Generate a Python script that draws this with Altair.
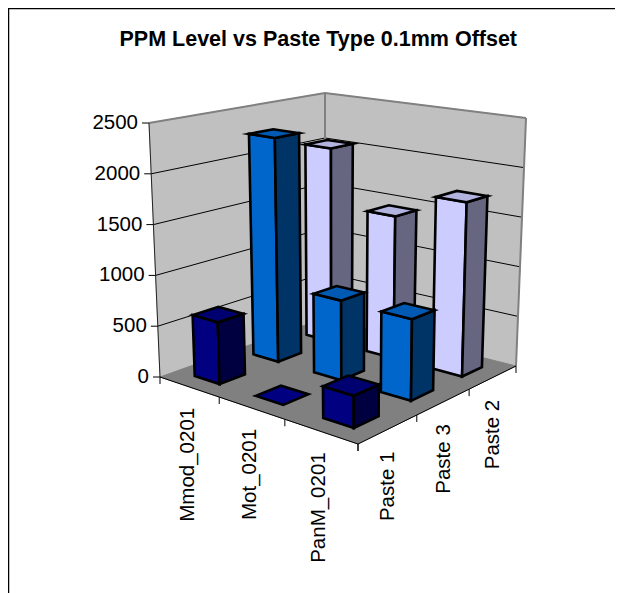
import altair as alt
import numpy as np
import pandas as pd

categories = ["Mmod_0201", "Mot_0201", "PanM_0201"]
series = ["Paste 1", "Paste 3", "Paste 2"]
paste_1 = [600, 0, 290]
paste_3 = [2270, 780, 770]
paste_2 = [2040, 1450, 1720]
y_ticks = [0, 500, 1000, 1500, 2000, 2500]
title_text = "PPM Level vs Paste Type 0.1mm Offset"

front_cols = ["#000080", "#0066CC", "#CCCCFF"]
side_cols = ["#000040", "#003366", "#666680"]
top_cols = ["#000070", "#0059B3", "#B3B3DF"]

FONT = "Liberation Sans"
YMAX = 2500.0
BAR = 0.42  # bar footprint share of a cell

# Axis frame: corners of the 3D box (left, front, right, back) at floor and top level
floor_c = [(160, 377), (358, 444), (516, 366), (325, 318)]
top_c = [(149, 123), (357, 158), (526, 118), (325, 93)]
unit_c = [(0, 0), (3, 0), (3, 3), (0, 3)]


def homography(src, dst):
    rows, rhs = [], []
    for (a, b), (p, q) in zip(src, dst):
        rows.append([a, b, 1, 0, 0, 0, -a * p, -b * p]); rhs.append(p)
        rows.append([0, 0, 0, a, b, 1, -a * q, -b * q]); rhs.append(q)
    h = np.linalg.solve(np.array(rows, float), np.array(rhs, float))
    return np.append(h, 1).reshape(3, 3)


HF, HT = homography(unit_c, floor_c), homography(unit_c, top_c)


def apply(H, u, v):
    r = H @ np.array([u, v, 1.0])
    return r[0] / r[2], r[1] / r[2]


def proj(u, v, val):
    """Project (category pos, series pos, value) onto the page."""
    f, t = apply(HF, u, v), apply(HT, u, v)
    k = val / YMAX
    return f[0] + (t[0] - f[0]) * k, f[1] + (t[1] - f[1]) * k


polys, lines, texts = [], [], []
pid = 0


def add_poly(store, pts, fill, stroke, sw):
    global pid
    pid += 1
    for i, (x, y) in enumerate(pts):
        store.append(dict(x=x, y=y, id=f"p{pid:03d}", o=i, fill=fill, stroke=stroke, sw=sw))


def add_line(pts, stroke, sw):
    add_poly(lines, pts, "none", stroke, sw)


# Walls and floor
back = []
add_poly(back, [proj(0, 0, 0), proj(0, 3, 0), proj(0, 3, YMAX), proj(0, 0, YMAX)], "#C0C0C0", "#C0C0C0", 1)
add_poly(back, [proj(0, 3, 0), proj(3, 3, 0), proj(3, 3, YMAX), proj(0, 3, YMAX)], "#C0C0C0", "#C0C0C0", 1)
add_poly(back, [proj(0, 0, 0), proj(3, 0, 0), proj(3, 3, 0), proj(0, 3, 0)], "#808080", "#808080", 1)

# Gridlines and frame
for t in y_ticks[1:]:
    c = "#808080" if t == YMAX else "#000000"
    w = 2 if t == YMAX else 1
    add_line([proj(0, 0, t), proj(0, 3, t), proj(3, 3, t)], c, w)
add_line([proj(0, 3, 0), proj(0, 3, YMAX)], "#808080", 2)
add_line([proj(3, 3, 0), proj(3, 3, YMAX)], "#808080", 2)
add_line([proj(0, 0, 0), proj(0, 0, YMAX)], "#222222", 1)
add_line([proj(0, 0, 0), proj(3, 0, 0), proj(3, 3, 0)], "#000000", 1)
# Ticks
for t in y_ticks:
    p = proj(0, 0, t)
    add_line([(p[0] - 7, p[1]), p], "#000000", 1)
    texts.append(dict(x=p[0] - 11, y=p[1], t=str(t), a=0, al="right"))
for i in range(4):
    p = proj(i, 0, 0)
    add_line([p, (p[0], p[1] + 7)], "#000000", 1)
    p = proj(3, i, 0)
    add_line([p, (p[0], p[1] + 7)], "#000000", 1)
for i, name in enumerate(categories):
    p = proj(i + 0.5, 0, 0)
    texts.append(dict(x=p[0] - 1, y=p[1] + 21, t=name, a=270, al="right"))
for j, name in enumerate(series):
    p = proj(3, j + 0.5, 0)
    texts.append(dict(x=p[0], y=p[1] + 22.5, t=name, a=270, al="right"))

# Bars, painted back to front
table = [paste_1, paste_3, paste_2]
bars = []
g = (1 - BAR) / 2
for j in (2, 1, 0):
    for i in range(3):
        val = table[j][i]
        u0, u1, v0, v1 = i + g, i + 1 - g, j + g, j + 1 - g
        if val > 0:
            add_poly(bars, [proj(u0, v0, 0), proj(u1, v0, 0), proj(u1, v0, val), proj(u0, v0, val)],
                     front_cols[j], "#000000", 2.6)
            add_poly(bars, [proj(u1, v0, 0), proj(u1, v1, 0), proj(u1, v1, val), proj(u1, v0, val)],
                     side_cols[j], "#000000", 2.6)
        add_poly(bars, [proj(u0, v0, val), proj(u1, v0, val), proj(u1, v1, val), proj(u0, v1, val)],
                 top_cols[j] if val > 0 else front_cols[j], "#000000", 2.6)

# Outer chart border
add_line([(8.5, 593), (8.5, 8.5), (615, 8.5)], "#000000", 1.5)

X = alt.X("x:Q", axis=None, scale=alt.Scale(domain=[8, 615], nice=False, zero=False))
Y = alt.Y("y:Q", axis=None, scale=alt.Scale(domain=[593, 8], nice=False, zero=False))


def closed(store):
    return alt.Chart(pd.DataFrame(store)).mark_line(interpolate="linear-closed", strokeJoin="miter", strokeMiterLimit=10).encode(
        x=X, y=Y, detail="id:N", order="o:Q",
        fill=alt.Fill("fill:N", scale=None),
        stroke=alt.Stroke("stroke:N", scale=None),
        strokeWidth=alt.StrokeWidth("sw:Q", scale=None),
    )


line_layer = alt.Chart(pd.DataFrame(lines)).mark_line(interpolate="linear").encode(
    x=X, y=Y, detail="id:N", order="o:Q",
    stroke=alt.Stroke("stroke:N", scale=None),
    strokeWidth=alt.StrokeWidth("sw:Q", scale=None),
)

tdf = pd.DataFrame(texts)
t0 = alt.Chart(tdf[tdf.a == 0]).mark_text(font=FONT, fontSize=20.5, align="right", baseline="middle", color="#000").encode(
    x=X, y=Y, text="t:N")
t1 = alt.Chart(tdf[tdf.a != 0]).mark_text(font=FONT, fontSize=20.5, align="right", baseline="middle", angle=270, color="#000").encode(
    x=X, y=Y, text="t:N")

chart = alt.layer(closed(back), line_layer, closed(bars), t0, t1).properties(
    width=607, height=585, padding=0,
    autosize=alt.AutoSizeParams(type="none"),
    title=alt.TitleParams(title_text, font=FONT, fontSize=21.5, fontWeight="bold", anchor="start",
                          offset=-45, dx=114, color="#000"),
).configure_view(stroke=None)

chart.save("out.html", embed_options={"renderer": "svg", "actions": False})
